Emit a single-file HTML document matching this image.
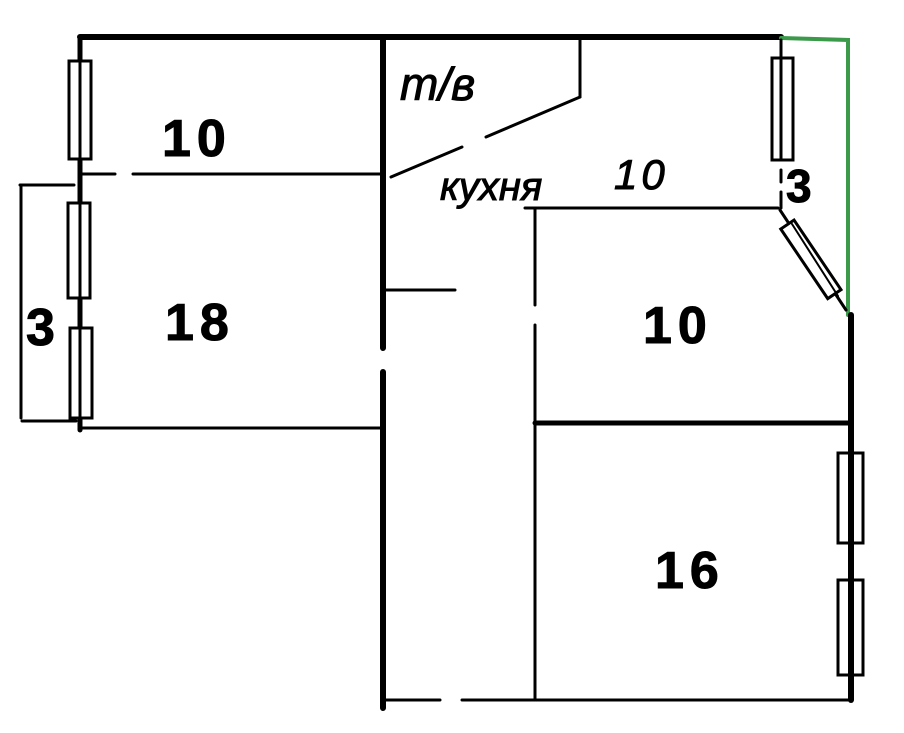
<!DOCTYPE html><html><head><style>body{margin:0;background:#fff}svg{display:block}text{font-family:"Liberation Sans",sans-serif;fill:#000}</style></head><body>
<svg width="904" height="733" viewBox="0 0 904 733" stroke="#000" fill="none" stroke-linecap="round">
<line x1="80" y1="37" x2="781" y2="37" stroke-width="6"/>
<polyline points="781,38 848,40 848,315" stroke="#3a9a4a" stroke-width="4"/>
<line x1="80" y1="37" x2="80" y2="430" stroke-width="5"/>
<g stroke-width="3" fill="#fff">
<rect x="69" y="61" width="22" height="98"/><rect x="68" y="203" width="22" height="95"/><rect x="70" y="328" width="22" height="90"/>
<rect x="772" y="58" width="21" height="102"/>
<rect x="838" y="453" width="25" height="90"/><rect x="838" y="580" width="25" height="95"/>
</g>
<line x1="80" y1="40" x2="80" y2="430" stroke-width="3"/>
<line x1="781" y1="40" x2="781" y2="160" stroke-width="3"/>
<line x1="851" y1="315" x2="851" y2="700" stroke-width="6"/>
<line x1="851" y1="453" x2="851" y2="675" stroke-width="3"/>
<line x1="21" y1="186" x2="21" y2="418" stroke-width="3"/>
<line x1="20" y1="185" x2="74" y2="185" stroke-width="3"/>
<line x1="22" y1="421" x2="76" y2="421" stroke-width="3"/>
<line x1="80" y1="174" x2="115" y2="174" stroke-width="3"/>
<line x1="133" y1="174" x2="383" y2="174" stroke-width="3"/>
<line x1="383" y1="40" x2="383" y2="348" stroke-width="6"/>
<line x1="383" y1="372" x2="383" y2="708" stroke-width="6"/>
<line x1="383" y1="290" x2="455" y2="290" stroke-width="3"/>
<line x1="80" y1="428" x2="383" y2="428" stroke-width="3"/>
<line x1="580" y1="40" x2="580" y2="97" stroke-width="3"/>
<line x1="580" y1="97" x2="486" y2="137" stroke-width="3"/>
<line x1="462" y1="147" x2="391" y2="177" stroke-width="3"/>
<line x1="525" y1="208" x2="778" y2="208" stroke-width="3"/>
<line x1="535" y1="208" x2="535" y2="305" stroke-width="3"/>
<line x1="535" y1="325" x2="535" y2="700" stroke-width="3"/>
<line x1="781" y1="170" x2="781" y2="182" stroke-width="3"/>
<line x1="781" y1="192" x2="781" y2="208" stroke-width="3"/>
<line x1="535" y1="423" x2="851" y2="423" stroke-width="5"/>
<line x1="383" y1="700" x2="440" y2="700" stroke-width="3"/>
<line x1="462" y1="700" x2="851" y2="700" stroke-width="3"/>
<line x1="780" y1="210" x2="846" y2="310" stroke-width="3"/>
<g transform="translate(812,261) rotate(56)" stroke-width="3" fill="#fff"><rect x="-44" y="-8" width="84" height="16"/></g>
<line x1="792" y1="224" x2="838" y2="296" stroke-width="2"/>
</g>
<g font-size="52" font-weight="bold" letter-spacing="6"><text x="162" y="156">10</text><text x="165" y="340">18</text><text x="26" y="345" letter-spacing="0">3</text><text x="643" y="343">10</text><text x="655" y="588">16</text><text x="786" y="202" font-size="46" letter-spacing="0">3</text></g>
<text x="400" y="100" font-size="46" font-style="italic">т/в</text>
<text x="440" y="200" font-size="40" font-style="italic">кухня</text>
<text x="614" y="189" font-size="42" font-style="italic" letter-spacing="4">10</text>
</svg></body></html>
